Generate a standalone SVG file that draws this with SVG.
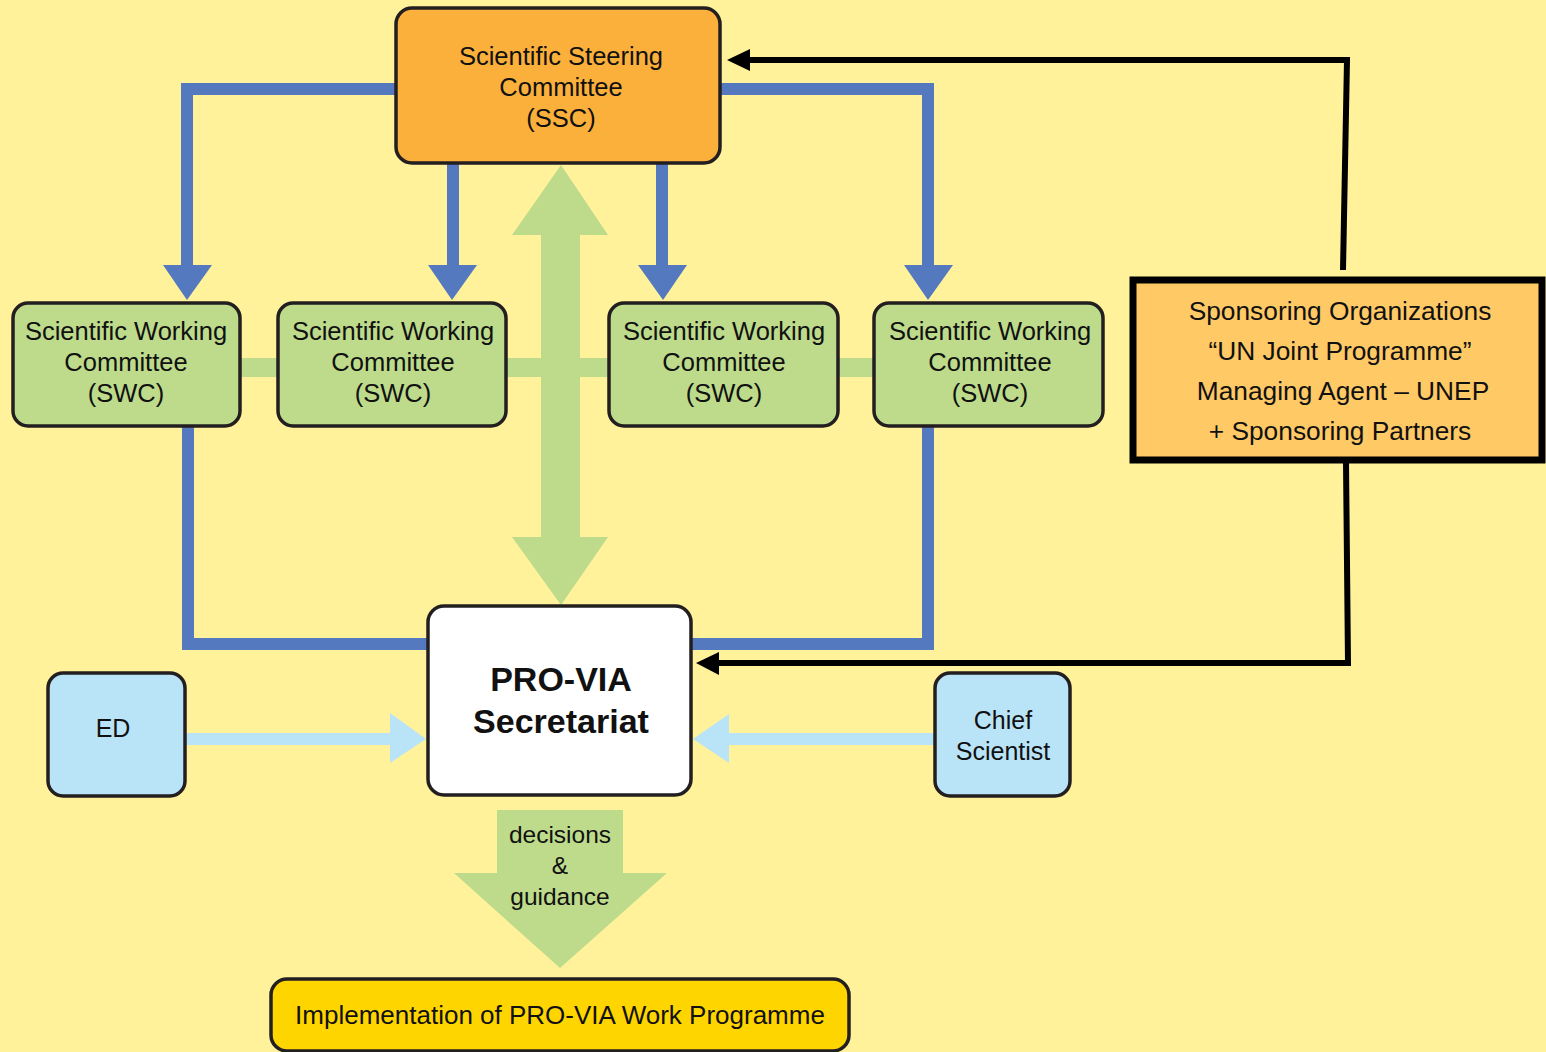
<svg xmlns="http://www.w3.org/2000/svg" width="1546" height="1052" viewBox="0 0 1546 1052">
<defs>
<style>
.t{font-family:"Liberation Sans",Arial,sans-serif;fill:#111;text-anchor:middle}
.box{stroke:#231f20;stroke-width:3.5}
.swc{fill:#bddb8b}
.blue{stroke:#5479bf;stroke-width:12;fill:none}
.bluehead{fill:#5479bf}
.blk{stroke:#000;stroke-width:6;fill:none}
.lb{fill:#b9e4f8}
.green{fill:#bddb8b}
</style>
</defs>
<rect width="1546" height="1052" fill="#fff29a"/>
<g id="connectors">
  <rect class="green" x="238" y="358" width="640" height="19"/>
  <polygon class="green" points="561,165 608,235 580,235 580,537 608,537 561,605 512,537 541,537 541,235 512,235"/>
  <polyline class="blue" points="396,89 187,89 187,268"/>
  <polygon class="bluehead" points="163,265 212,265 187,300"/>
  <line class="blue" x1="453" y1="163" x2="453" y2="268"/>
  <polygon class="bluehead" points="428,265 477,265 452,300"/>
  <line class="blue" x1="662" y1="163" x2="662" y2="268"/>
  <polygon class="bluehead" points="638,265 687,265 663,300"/>
  <polyline class="blue" points="720,89 928,89 928,268"/>
  <polygon class="bluehead" points="904,265 953,265 928,300"/>
  <polyline class="blue" points="188,426 188,644 428,644"/>
  <polyline class="blue" points="928,426 928,644 691,644"/>
  <polyline class="blk" points="1343,270 1347,60 748,60"/>
  <polygon points="727,60 750,49 750,71" fill="#000"/>
  <polyline class="blk" points="1346,462 1348,663 717,663"/>
  <polygon points="696,663 719,652 719,675" fill="#000"/>
  <rect class="lb" x="185" y="733" width="207" height="12"/>
  <polygon class="lb" points="390,713 426,739 390,763"/>
  <rect class="lb" x="727" y="733" width="208" height="12"/>
  <polygon class="lb" points="729,714 693,739 729,763"/>
  <polygon class="green" points="497,810 623,810 623,873 667,873 560,968 454,873 497,873"/>
  <text class="t" font-size="24.5" x="560" y="843">decisions</text>
  <text class="t" font-size="24.5" x="560" y="874">&amp;</text>
  <text class="t" font-size="24.5" x="560" y="905">guidance</text>
</g>
<g id="ssc">
  <rect class="box" x="396" y="8" width="324" height="155" rx="16" fill="#fbb03b"/>
  <text class="t" font-size="25.5" x="561" y="65">Scientific Steering</text>
  <text class="t" font-size="25.5" x="561" y="96">Committee</text>
  <text class="t" font-size="25.5" x="561" y="127">(SSC)</text>
</g>
<g id="swc1">
  <rect class="box swc" x="13" y="303" width="227" height="123" rx="15"/>
  <text class="t" font-size="25.5" x="126" y="340">Scientific Working</text>
  <text class="t" font-size="25.5" x="126" y="371">Committee</text>
  <text class="t" font-size="25.5" x="126" y="402">(SWC)</text>
</g>
<g id="swc2">
  <rect class="box swc" x="278" y="303" width="228" height="123" rx="15"/>
  <text class="t" font-size="25.5" x="393" y="340">Scientific Working</text>
  <text class="t" font-size="25.5" x="393" y="371">Committee</text>
  <text class="t" font-size="25.5" x="393" y="402">(SWC)</text>
</g>
<g id="swc3">
  <rect class="box swc" x="609" y="303" width="229" height="123" rx="15"/>
  <text class="t" font-size="25.5" x="724" y="340">Scientific Working</text>
  <text class="t" font-size="25.5" x="724" y="371">Committee</text>
  <text class="t" font-size="25.5" x="724" y="402">(SWC)</text>
</g>
<g id="swc4">
  <rect class="box swc" x="874" y="303" width="229" height="123" rx="15"/>
  <text class="t" font-size="25.5" x="990" y="340">Scientific Working</text>
  <text class="t" font-size="25.5" x="990" y="371">Committee</text>
  <text class="t" font-size="25.5" x="990" y="402">(SWC)</text>
</g>
<g id="sponsors">
  <rect x="1133" y="280" width="409" height="180" fill="#ffc966" stroke="#000" stroke-width="7"/>
  <text class="t" font-size="26.3" x="1340" y="320">Sponsoring Organizations</text>
  <text class="t" font-size="26.3" x="1340" y="360">“UN Joint Programme”</text>
  <text class="t" font-size="26.3" x="1343" y="400">Managing Agent – UNEP</text>
  <text class="t" font-size="26.3" x="1340" y="440">+ Sponsoring Partners</text>
</g>
<g id="secretariat">
  <rect class="box" x="428" y="606" width="263" height="189" rx="16" fill="#fff"/>
  <text class="t" font-size="34" font-weight="bold" x="561" y="691">PRO-VIA</text>
  <text class="t" font-size="34" font-weight="bold" x="561" y="733">Secretariat</text>
</g>
<g id="ed">
  <rect class="box lb" x="48" y="673" width="137" height="123" rx="15"/>
  <text class="t" font-size="25" x="113" y="737">ED</text>
</g>
<g id="chief">
  <rect class="box lb" x="935" y="673" width="135" height="123" rx="15"/>
  <text class="t" font-size="25" x="1003" y="729">Chief</text>
  <text class="t" font-size="25" x="1003" y="760">Scientist</text>
</g>
<g id="implementation">
  <rect class="box" x="271" y="979" width="578" height="72" rx="16" fill="#ffd500"/>
  <text class="t" font-size="26" x="560" y="1024">Implementation of PRO-VIA Work Programme</text>
</g>
</svg>
